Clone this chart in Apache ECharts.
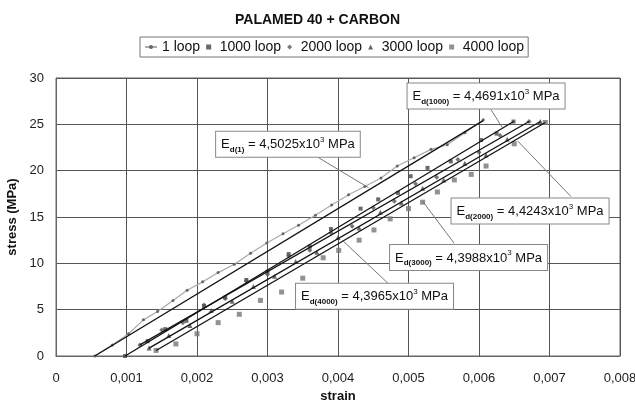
<!DOCTYPE html>
<html>
<head>
<meta charset="utf-8">
<script src="https://cdn.jsdelivr.net/npm/echarts@6/dist/echarts.min.js"></script>
<style>
  html, body { margin: 0; padding: 0; background: #fff; }
  #chart { width: 635px; height: 411px; }
</style>
</head>
<body>
<div id="chart"></div>
<script>
// legend names
var seriesNames = ['1 loop', '1000 loop', '2000 loop', '3000 loop', '4000 loop'];

// measured points (strain, stress MPa)
var loop1Strain = [0.00055, 0.0008, 0.00103, 0.00124, 0.00144, 0.00166, 0.00186, 0.00208, 0.0023, 0.00253, 0.00276, 0.00299, 0.00322, 0.00344, 0.00368, 0.00391, 0.00415, 0.00438, 0.00461, 0.00484, 0.00508, 0.00532, 0.00555, 0.0058, 0.00606];
var loop1Stress = [0, 1.2, 2.4, 3.9, 4.8, 6.0, 7.1, 8.0, 9.0, 9.9, 11.1, 12.2, 13.2, 14.1, 15.2, 16.3, 17.4, 18.3, 19.2, 20.5, 21.4, 22.3, 22.8, 24.1, 25.5];

var loop1000Strain = [0.00098, 0.0013, 0.00155, 0.00185, 0.0021, 0.0024, 0.0027, 0.003, 0.0033, 0.0036, 0.0039, 0.00432, 0.00457, 0.00485, 0.00503, 0.00527, 0.0056, 0.00603, 0.00625, 0.00649];
var loop1000Stress = [0, 1.6, 2.9, 3.8, 5.4, 6.3, 8.2, 9.1, 11.0, 11.8, 13.7, 15.9, 16.9, 17.6, 19.4, 20.3, 21.0, 23.3, 24.0, 25.3];

var loop2000Strain = [0.00119, 0.0015, 0.0018, 0.0021, 0.0024, 0.0027, 0.003, 0.0033, 0.0036, 0.0039, 0.0042, 0.0045, 0.0048, 0.0051, 0.0054, 0.0057, 0.006, 0.0063, 0.00671];
var loop2000Stress = [1.2, 2.8, 3.6, 5.5, 6.2, 8.1, 8.8, 10.8, 11.4, 13.3, 14.0, 16.0, 16.7, 18.6, 19.3, 21.2, 22.0, 23.8, 25.3];

var loop3000Strain = [0.00132, 0.0016, 0.0019, 0.0022, 0.0025, 0.0028, 0.0031, 0.0034, 0.0037, 0.004, 0.0043, 0.0046, 0.0049, 0.0052, 0.0055, 0.0058, 0.0061, 0.0064, 0.00687];
var loop3000Stress = [0.85, 2.2, 3.3, 4.9, 5.9, 7.5, 8.6, 10.2, 11.2, 12.8, 13.8, 15.5, 16.5, 18.1, 19.0, 20.8, 21.7, 23.4, 25.3];

var loop4000Strain = [0.00142, 0.0017, 0.002, 0.0023, 0.0026, 0.0029, 0.0032, 0.0035, 0.00379, 0.00401, 0.0043, 0.00451, 0.00474, 0.005, 0.0052, 0.00541, 0.00565, 0.00589, 0.0061, 0.0065, 0.00694];
var loop4000Stress = [0.6, 1.3, 2.4, 3.6, 4.5, 6.0, 6.9, 8.4, 10.6, 11.4, 12.5, 13.6, 14.8, 15.9, 16.6, 17.7, 19.0, 19.6, 20.5, 22.9, 25.2];

// fitted lines: [startStrain, startStress, endStrain, endStress]
var fit1 = [0.00055, 0, 0.00606, 25.4];
var fit1000 = [0.00098, 0, 0.00649, 25.3];
var fit2000 = [0.00119, 1.2, 0.00671, 25.3];
var fit3000 = [0.00132, 0.85, 0.00687, 25.3];
var fit4000 = [0.00142, 0.6, 0.00694, 25.2];

// modulus labels
var labelSub = ['d(1)', 'd(1000)', 'd(2000)', 'd(3000)', 'd(4000)'];
var labelValue = ['4,5025', '4,4691', '4,4243', '4,3988', '4,3965'];
// label box centre, leader start, leader end (strain, stress)
var labelBox = [[0.00329, 22.86], [0.0061, 28.07], [0.006724, 15.66], [0.005852, 10.63], [0.004518, 6.46]];
var leaderFrom = [[0.003724, 21.4], [0.006169, 26.6], [0.007306, 17.2], [0.005648, 12.16], [0.00471, 7.84]];
var leaderTo = [[0.004435, 18.15], [0.006335, 24.6], [0.006549, 23.2], [0.0052, 16.7], [0.00406, 12.5]];

var xTicks = [0, 0.001, 0.002, 0.003, 0.004, 0.005, 0.006, 0.007, 0.008];
var yTicks = [0, 5, 10, 15, 20, 25, 30];

function pairs(xs, ys) {
  return xs.map(function (x, i) { return [x, ys[i]]; });
}
function fitLine(f) {
  return {
    type: 'line', data: [[f[0], f[1]], [f[2], f[3]]], symbol: 'none', silent: true,
    lineStyle: { color: '#111', width: 1.3 }, z: 3
  };
}

var font = 'Liberation Sans, Arial, sans-serif';
var chart = echarts.init(document.getElementById('chart'));

var option = {
  animation: false,
  backgroundColor: '#fff',
  textStyle: { fontFamily: font },
  title: {
    text: 'PALAMED 40 + CARBON', left: 'center', top: 8,
    textStyle: { fontSize: 14, fontWeight: 'bold', color: '#111', fontFamily: font }
  },
  legend: {
    top: 37, left: 140,
    borderColor: '#777', borderWidth: 1, padding: [3, 4],
    itemGap: 6, itemWidth: 12, itemHeight: 5,
    textStyle: { fontSize: 14, color: '#111', fontFamily: font },
    data: [
      { name: seriesNames[0] },
      { name: seriesNames[1], icon: 'path://M0,0h4v4h-4z' },
      { name: seriesNames[2], icon: 'path://M2,0L4,2L2,4L0,2z' },
      { name: seriesNames[3], icon: 'path://M2,0L4,4L0,4z' },
      { name: seriesNames[4], icon: 'path://M0,0h4v4h-4z' }
    ]
  },
  grid: {
    left: 56, right: 15, top: 78, bottom: 55, outerBoundsMode: 'none', containLabel: false,
    show: true, borderColor: '#666', borderWidth: 1
  },
  xAxis: {
    type: 'value', min: 0, max: 0.008, interval: 0.001,
    name: 'strain', nameLocation: 'middle', nameGap: 34,
    nameTextStyle: { fontSize: 13, fontWeight: 'bold', color: '#111' },
    axisLine: { show: true, lineStyle: { color: '#666' } },
    axisTick: { show: false },
    splitLine: { show: true, lineStyle: { color: '#555', width: 1 } },
    axisLabel: {
      color: '#222', fontSize: 13, margin: 16,
      formatter: function (v) {
        var t = xTicks.filter(function (k) { return Math.abs(k - v) < 1e-9; })[0];
        if (t === 0) return '0';
        return t.toFixed(3).replace('.', ',');
      }
    }
  },
  yAxis: {
    type: 'value', min: 0, max: 30, interval: 5,
    name: 'stress (MPa)', nameLocation: 'middle', nameGap: 37, nameRotate: 90,
    nameTextStyle: { fontSize: 13, fontWeight: 'bold', color: '#111' },
    axisLine: { show: true, lineStyle: { color: '#666' } },
    axisTick: { show: false },
    splitLine: { show: true, lineStyle: { color: '#555', width: 1 } },
    axisLabel: { color: '#222', fontSize: 13, margin: 12 }
  },
  series: [
    {
      name: seriesNames[0], type: 'line', data: pairs(loop1Strain, loop1Stress),
      symbol: 'circle', symbolSize: 3, z: 2,
      itemStyle: { color: '#666' }, lineStyle: { color: '#aaa', width: 1.2 }
    },
    {
      name: seriesNames[1], type: 'scatter', data: pairs(loop1000Strain, loop1000Stress),
      symbol: 'rect', symbolSize: 4, itemStyle: { color: '#444' }
    },
    {
      name: seriesNames[2], type: 'scatter', data: pairs(loop2000Strain, loop2000Stress),
      symbol: 'diamond', symbolSize: 5, itemStyle: { color: '#555' }
    },
    {
      name: seriesNames[3], type: 'scatter', data: pairs(loop3000Strain, loop3000Stress),
      symbol: 'triangle', symbolSize: 5, itemStyle: { color: '#444' }
    },
    {
      name: seriesNames[4], type: 'scatter', data: pairs(loop4000Strain, loop4000Stress),
      symbol: 'rect', symbolSize: 5, itemStyle: { color: '#777' }
    },
    fitLine(fit1), fitLine(fit1000), fitLine(fit2000), fitLine(fit3000), fitLine(fit4000)
  ]
};
chart.setOption(option);

// annotation boxes with leader lines
var graphics = [];
labelBox.forEach(function (b, i) {
  var p0 = chart.convertToPixel({ gridIndex: 0 }, leaderFrom[i]);
  var p1 = chart.convertToPixel({ gridIndex: 0 }, leaderTo[i]);
  var c = chart.convertToPixel({ gridIndex: 0 }, b);
  graphics.push({
    type: 'line', shape: { x1: p0[0], y1: p0[1], x2: p1[0], y2: p1[1] },
    style: { stroke: '#777', lineWidth: 1 }, z: 10
  });
  graphics.push({
    type: 'text', x: c[0], y: c[1], z: 11,
    style: {
      text: '{e|E}{sub|' + labelSub[i] + '}{e| = ' + labelValue[i] + 'x10}{sup|3}{e| MPa}',
      align: 'center', verticalAlign: 'middle',
      backgroundColor: '#fff', borderColor: '#888', borderWidth: 1,
      padding: [4, 5, 3, 5],
      rich: {
        e: { fontSize: 13, fontFamily: font, fill: '#111', lineHeight: 18 },
        sub: { fontSize: 8, fontWeight: 'bold', fontFamily: font, fill: '#111', verticalAlign: 'bottom', lineHeight: 10 },
        sup: { fontSize: 8, fontFamily: font, fill: '#111', verticalAlign: 'top', lineHeight: 10 }
      }
    }
  });
});
chart.setOption({ graphic: graphics });
</script>
</body>
</html>
